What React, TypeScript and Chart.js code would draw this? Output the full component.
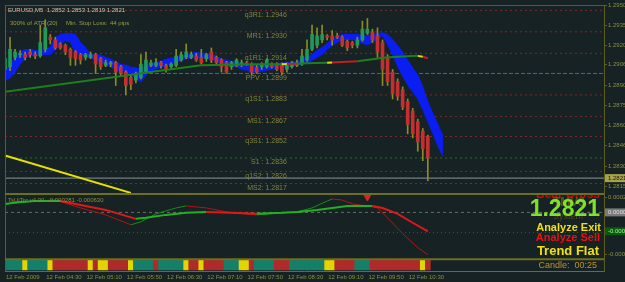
import React, { useEffect, useRef } from "react";
import { Chart, registerables } from "chart.js";

Chart.register(...registerables);

const FONT = "'Liberation Sans', Arial, sans-serif";
const BG = "#162224";
const FRAME = "#5c5c1c";
const SEP = "#6e6e22";
const AXIS_TEXT = "#8e8e40";

// ---------- categories (5-minute bars, incl. empty space on the right) ----------
const barTimes: string[] = [];
for (let i = 0; i < 120; i++) {
  const m = 3 * 60 + 50 + 5 * i;
  barTimes.push(`12 Feb ${String(Math.floor(m / 60)).padStart(2, "0")}:${String(m % 60).padStart(2, "0")}`);
}
const timeTickIdx = [0, 8, 16, 24, 32, 40, 48, 56, 64, 72, 80];
const timeTickLabels = ["12 Feb 2009", "12 Feb 04:30", "12 Feb 05:10", "12 Feb 05:50", "12 Feb 06:30", "12 Feb 07:10", "12 Feb 07:50", "12 Feb 08:30", "12 Feb 09:10", "12 Feb 09:50", "12 Feb 10:30"];

// ---------- price axis ----------
const mainTickValues = [1.295, 1.2935, 1.292, 1.29055, 1.289, 1.2875, 1.286, 1.28455, 1.283, 1.2815];
const mainTickLabels = ["1.2950", "1.2935", "1.2920", "1.2906", "1.2890", "1.2875", "1.2860", "1.2846", "1.2830", "1.2815"];
const indTickValues = [0.00022, -0.00063];
const indTickLabels = ["0.00022", "-0.00063"];

// ---------- candles ----------
const openP = [1.2902, 1.2904, 1.2911, 1.2913, 1.2913, 1.2915, 1.2913, 1.2912, 1.2917, 1.2926, 1.2924, 1.2921, 1.292, 1.2917, 1.2915, 1.2913, 1.2911, 1.2911, 1.2913, 1.291, 1.2905, 1.2906, 1.2907, 1.2904, 1.29, 1.2896, 1.2894, 1.2896, 1.29, 1.2905, 1.2905, 1.2907, 1.2905, 1.2904, 1.2905, 1.2909, 1.2911, 1.2911, 1.2912, 1.2911, 1.291, 1.2915, 1.2911, 1.2909, 1.2907, 1.2904, 1.2905, 1.2906, 1.2907, 1.2906, 1.2903, 1.2904, 1.2904, 1.2906, 1.2906, 1.2905, 1.2902, 1.2904, 1.2905, 1.2906, 1.2909, 1.2917, 1.292, 1.2924, 1.2927, 1.2927, 1.2927, 1.2926, 1.2923, 1.2922, 1.292, 1.2924, 1.2929, 1.293, 1.2927, 1.2922, 1.2911, 1.29, 1.2893, 1.2887, 1.2878, 1.2871, 1.2863, 1.2856, 1.2852];
const highP = [1.2917, 1.2926, 1.2917, 1.2916, 1.2915, 1.2917, 1.2915, 1.2935, 1.2939, 1.2928, 1.2926, 1.2922, 1.2921, 1.2918, 1.2916, 1.2914, 1.2914, 1.2915, 1.2914, 1.2911, 1.2909, 1.2908, 1.2908, 1.2905, 1.2901, 1.2898, 1.29, 1.2913, 1.2915, 1.2909, 1.291, 1.2908, 1.2906, 1.2907, 1.2917, 1.2915, 1.2921, 1.2915, 1.2914, 1.2917, 1.2914, 1.2918, 1.2912, 1.291, 1.2908, 1.2908, 1.291, 1.2909, 1.2908, 1.2907, 1.2905, 1.2907, 1.291, 1.2907, 1.2907, 1.2907, 1.2907, 1.2908, 1.2909, 1.2917, 1.2924, 1.2935, 1.2933, 1.2935, 1.2928, 1.2931, 1.2929, 1.2927, 1.2924, 1.2923, 1.2926, 1.2938, 1.294, 1.2932, 1.2933, 1.2924, 1.2913, 1.2902, 1.2895, 1.2889, 1.288, 1.2873, 1.2865, 1.2858, 1.2853];
const lowP = [1.2899, 1.2901, 1.2909, 1.2911, 1.2909, 1.2911, 1.291, 1.2911, 1.2915, 1.2921, 1.2917, 1.2917, 1.2913, 1.2905, 1.2905, 1.2906, 1.2909, 1.291, 1.2899, 1.2902, 1.2904, 1.2904, 1.289, 1.2897, 1.2883, 1.2887, 1.2892, 1.2895, 1.2899, 1.2904, 1.2904, 1.2903, 1.29, 1.2902, 1.2904, 1.2908, 1.291, 1.291, 1.2908, 1.2906, 1.2908, 1.2907, 1.2906, 1.29, 1.2899, 1.2902, 1.2904, 1.2904, 1.2905, 1.2898, 1.2899, 1.2902, 1.2903, 1.2903, 1.2901, 1.2898, 1.29, 1.2903, 1.2904, 1.2905, 1.2908, 1.2916, 1.2918, 1.2922, 1.2924, 1.292, 1.2925, 1.2919, 1.2916, 1.2918, 1.2918, 1.2923, 1.2928, 1.2922, 1.2911, 1.289, 1.289, 1.288, 1.2879, 1.2872, 1.2854, 1.2851, 1.2841, 1.2834, 1.2819];
const closeP = [1.291, 1.2917, 1.2915, 1.2914, 1.2911, 1.2913, 1.2912, 1.2922, 1.2933, 1.2924, 1.2918, 1.2918, 1.2915, 1.2911, 1.291, 1.2909, 1.2913, 1.2913, 1.2906, 1.2904, 1.2907, 1.2907, 1.29, 1.2899, 1.289, 1.2891, 1.2899, 1.2906, 1.2909, 1.2907, 1.2907, 1.2905, 1.2902, 1.2906, 1.2912, 1.2913, 1.2915, 1.2913, 1.2909, 1.2907, 1.2913, 1.2909, 1.2907, 1.2904, 1.29, 1.2907, 1.2909, 1.2907, 1.2906, 1.29, 1.29, 1.2906, 1.2909, 1.2904, 1.2902, 1.29, 1.2906, 1.2907, 1.2907, 1.2912, 1.2917, 1.2928, 1.2927, 1.2928, 1.2926, 1.2924, 1.2926, 1.292, 1.2918, 1.292, 1.2924, 1.2932, 1.2932, 1.2924, 1.2915, 1.2902, 1.2893, 1.2884, 1.2882, 1.2874, 1.2861, 1.2854, 1.2848, 1.2843, 1.2836];

// ---------- blue channel ----------
const bandUpper = [1.29022, 1.29059, 1.2911, 1.29154, 1.29169, 1.29169, 1.29162, 1.29162, 1.29169, 1.29184, 1.29257, 1.2928, 1.29287, 1.29287, 1.2928, 1.29221, 1.29184, 1.29132, 1.29132, 1.29125, 1.2911, 1.29096, 1.29074, 1.29059, 1.29051, 1.29037, 1.2903, 1.29022, 1.29044, 1.29059, 1.29074, 1.29081, 1.29096, 1.29103, 1.2911, 1.29118, 1.29125, 1.2914, 1.29147, 1.2914, 1.2914, 1.29132, 1.29118, 1.29096, 1.29088, 1.29081, 1.29074, 1.29066, 1.29059, 1.29051, 1.29051, 1.29051, 1.29051, 1.29059, 1.29066, 1.29066, 1.29074, 1.29074, 1.29081, 1.29096, 1.2911, 1.29132, 1.29162, 1.29184, 1.29213, 1.29243, 1.29265, 1.2928, 1.2928, 1.2928, 1.2928, 1.29272, 1.29272, 1.2928, 1.29287, 1.29294, 1.2928, 1.29243, 1.29199, 1.29147, 1.29088, 1.2903, 1.28978, 1.2889, 1.28779, 1.28691, 1.2861, 1.28522];
const bandLower = [1.28941, 1.28956, 1.29, 1.29059, 1.29103, 1.29125, 1.29125, 1.29125, 1.29132, 1.29132, 1.29169, 1.29206, 1.29235, 1.29221, 1.29147, 1.29132, 1.29118, 1.29103, 1.29096, 1.29074, 1.29059, 1.29037, 1.29022, 1.29007, 1.28993, 1.28978, 1.28956, 1.28926, 1.28978, 1.29007, 1.29022, 1.29037, 1.29051, 1.29059, 1.29074, 1.29088, 1.29096, 1.29103, 1.2911, 1.2911, 1.29103, 1.29096, 1.29081, 1.29051, 1.29051, 1.29044, 1.29037, 1.29022, 1.29015, 1.29, 1.29, 1.29007, 1.29015, 1.29022, 1.2903, 1.29037, 1.29037, 1.29044, 1.29051, 1.29059, 1.29066, 1.29088, 1.2911, 1.29132, 1.29169, 1.29199, 1.29221, 1.29243, 1.29243, 1.29243, 1.29235, 1.29213, 1.29206, 1.29221, 1.2925, 1.29272, 1.29206, 1.29132, 1.29044, 1.28971, 1.28904, 1.28853, 1.28801, 1.28721, 1.28632, 1.28544, 1.28449, 1.28375];

// ---------- moving average ----------
const maIdx = [0, 10, 20, 30, 39, 50, 55, 56, 58, 60, 64, 65, 70, 73, 75, 78, 80, 82, 83, 84];
const maVal = [1.28853, 1.28904, 1.28954, 1.29006, 1.29051, 1.29059, 1.29059, 1.2906, 1.29063, 1.29066, 1.2907, 1.29071, 1.29081, 1.29096, 1.29107, 1.29114, 1.29118, 1.29121, 1.29114, 1.29103];
const maSeg = "GGGGGGYRGGYRGGGGGYRR".split("");

// ---------- trend line ----------
const trendIdx = [0, 25];
const trendVal = [1.28378, 1.281];

// ---------- pivot levels ----------
const pivotNames = ["q3R1", "MR1", "q1R1", "PPV ", "q1S1", "MS1", "q3S1", "S1 ", "q1S2", "MS2"];
const pivotLevels = [1.2946, 1.293, 1.2914, 1.2899, 1.2883, 1.2867, 1.2852, 1.2836, 1.2826, 1.2817];
const bidPrice = 1.2821;

// ---------- indicator window ----------
const fastIdx = [0, 3, 6, 11, 15, 20, 26, 28, 32, 36, 40, 45, 50, 55, 58, 62, 65, 68, 73, 75, 78, 81, 84];
const fastVal = [0.000125, 0.000154, 0.000169, 0.000169, 0.00011, 0.000037, -0.000096, -0.000081, -0.000037, -0.000007, 0.000007, -0.000007, -0.000022, -0.000007, 0.000007, 0.000037, 0.000066, 0.000096, 0.000096, 0.000066, -0.000022, -0.000154, -0.000281];
const slowIdx = [0, 6, 10, 15, 20, 24, 25, 27, 30, 34, 36, 40, 45, 50, 55, 58, 61, 64, 65, 67, 69, 72, 74, 76, 79, 82, 84];
const slowVal = [0.000125, 0.000169, 0.000184, 0.000066, -0.000037, -0.000154, -0.000184, -0.00014, -0.000022, 0.000066, 0.000096, 0.000066, -0.000007, -0.000037, -0.000007, 0.000007, 0.000066, 0.000169, 0.000199, 0.000184, 0.000125, 0.000096, 0.000066, -0.000081, -0.000316, -0.000522, -0.00063];
const indLevels = [0, -0.0003];
const arrowIdx = [72];
const arrowVal = [0.000228];

// ---------- trend state strip ----------
const trendStates = "GGGGYGGGGYRRRRRRRYRYYRRRRYGGGGRGGGGGYRRYRRRRGGGYYRGGGGRRRGGGGGGGYYRRRRGGGRRRRRRRRRRYR".split("");

// ---------- texts ----------
const symbolTitle = "EURUSD,M5  1.2852 1.2853 1.2819 1.2821";
const atrParts = ["300% of ATR (20)", "Min. Stop Loss:", "44 pips"];
const indLabel = "TsUiTrc v4.00  -0.000281 -0.000630";
const signalTexts = ["Bear Cross", "TMV3", "System", "Analyze Exit", "Analyze Sell", "Trend Flat"];
const candleTimer = "Candle:  00:25";

const STATE_COLORS: Record<string, string> = { G: "#15806a", R: "#b02a2a", Y: "#e4d400" };
const MA_COLORS: Record<string, string> = { G: "#1e7e1e", Y: "#e0e000", R: "#c02020" };

const bgPlugin = {
  id: "bg",
  beforeDraw(chart: any) {
    const { ctx, width, height } = chart;
    ctx.save();
    ctx.fillStyle = BG;
    ctx.fillRect(0, 0, width, height);
    ctx.restore();
  },
};

const overlayPlugin = {
  id: "mt4Overlay",
  afterDraw(chart: any) {
    const { ctx, chartArea: ca, scales } = chart;
    const xs = scales.x, ym = scales.y, yi = scales.yi, yb = scales.yb;
    const hline = (y: number, x0: number, x1: number) => {
      ctx.beginPath(); ctx.moveTo(x0, y); ctx.lineTo(x1, y); ctx.stroke();
    };
    ctx.save();
    ctx.strokeStyle = FRAME; ctx.lineWidth = 1;
    hline(ca.top + 0.5, ca.left, ca.right);
    ctx.beginPath(); ctx.moveTo(ca.left + 0.5, ca.top); ctx.lineTo(ca.left + 0.5, ca.bottom); ctx.stroke();
    ctx.strokeStyle = SEP;
    hline(ca.bottom + 0.5, ca.left, ca.right);
    ctx.lineWidth = 2;
    hline(yi.top + 1, ca.left, ca.right);
    hline(yb.top + 1, ca.left, ca.right);

    // time axis labels
    ctx.font = `6px ${FONT}`; ctx.fillStyle = AXIS_TEXT; ctx.textAlign = "left"; ctx.textBaseline = "middle";
    timeTickIdx.forEach((b, k) => ctx.fillText(timeTickLabels[k], xs.getPixelForValue(b) + 1, ca.bottom + 6));

    // pivot labels
    ctx.font = `7px ${FONT}`; ctx.fillStyle = "#85853a"; ctx.textAlign = "right"; ctx.textBaseline = "top";
    const lx = xs.getPixelForValue(56);
    pivotLevels.forEach((lvl, k) => ctx.fillText(`${pivotNames[k]}: ${lvl.toFixed(4)}`, lx, ym.getPixelForValue(lvl) + 1));

    // header texts
    ctx.textAlign = "left"; ctx.textBaseline = "middle";
    ctx.font = `6px ${FONT}`; ctx.fillStyle = "#c6c6b4";
    ctx.fillText(symbolTitle, ca.left + 3, ca.top + 5);
    ctx.fillStyle = "#9c9c40";
    ctx.fillText(atrParts[0], ca.left + 5, ca.top + 18);
    ctx.fillText(atrParts[1], ca.left + 61, ca.top + 18);
    ctx.fillText(atrParts[2], ca.left + 105, ca.top + 18);
    ctx.font = `6px ${FONT}`; ctx.fillStyle = "#8c8c3a";
    ctx.fillText(indLabel, ca.left + 3, yi.top + 7);

    // right-hand signal block
    const rx = ca.right - 4;
    ctx.save();
    ctx.beginPath(); ctx.rect(ca.left, yi.top + 2, ca.right - ca.left, yi.bottom - yi.top); ctx.clip();
    ctx.textAlign = "right";
    ctx.font = `bold 12px ${FONT}`; ctx.fillStyle = "#e00000";
    ctx.fillText(signalTexts[0], rx, yi.top + 2);
    ctx.restore();
    ctx.textAlign = "center";
    ctx.font = `bold 12px ${FONT}`; ctx.fillStyle = "#55551c";
    ctx.fillText(signalTexts[1], rx - 31, yi.top + 10);
    ctx.font = `9px ${FONT}`; ctx.fillStyle = "#4c4c1c";
    ctx.fillText(signalTexts[2], rx - 32, yi.top + 24);
    ctx.textAlign = "right";
    ctx.font = `bold 23px ${FONT}`; ctx.fillStyle = "#7ee22a";
    ctx.fillText(bidPrice.toFixed(4), rx, yi.top + 17);
    ctx.font = `bold 11px ${FONT}`; ctx.fillStyle = "#f0e010";
    ctx.fillText(signalTexts[3], rx + 1, yi.top + 35);
    ctx.fillStyle = "#e81010";
    ctx.fillText(signalTexts[4], rx, yi.top + 45);
    ctx.font = `bold 13px ${FONT}`; ctx.fillStyle = "#f0e010";
    ctx.fillText(signalTexts[5], rx - 1, yi.top + 59);
    ctx.font = `9px ${FONT}`; ctx.fillStyle = "#c0922e";
    ctx.fillText(candleTimer, rx - 3, (yb.top + yb.bottom) / 2 + 1);

    // axis value boxes
    const box = (y: number, text: string, bg: string, fg: string) => {
      ctx.fillStyle = bg; ctx.fillRect(ca.right + 1, y - 4, chart.width - ca.right - 1, 8);
      ctx.fillStyle = fg; ctx.font = `6px ${FONT}`; ctx.textAlign = "left"; ctx.textBaseline = "middle";
      ctx.fillText(text, ca.right + 4, y);
    };
    box(ym.getPixelForValue(bidPrice), bidPrice.toFixed(4), "#a8a24a", "#1c1c10");
    box(yi.getPixelForValue(0), "0.00000", "#7a7a7a", "#e0e0e0");
    const lastFast = fastVal[fastVal.length - 1];
    box(yi.getPixelForValue(lastFast), lastFast.toFixed(5), "#0c5a0c", "#a0f0a0");
    ctx.restore();
  },
};

function buildConfig(): any {
  const datasets: any[] = [];
  const last = barTimes[barTimes.length - 1];
  pivotLevels.forEach((lvl, k) => {
    const name = pivotNames[k].trim();
    const color = name === "PPV" ? "#2a6ad0" : name === "S1" ? "#2c6a2c" : "#7e2a2a";
    datasets.push({
      type: "line", label: name, yAxisID: "y", order: 60,
      data: [{ x: barTimes[0], y: lvl }, { x: last, y: lvl }],
      borderColor: color, borderWidth: 1, borderDash: name === "PPV" ? [4, 2] : [2, 3],
      pointRadius: 0, fill: false,
    });
  });
  datasets.push({
    type: "line", label: "bid", yAxisID: "y", order: 59,
    data: [{ x: barTimes[0], y: bidPrice }, { x: last, y: bidPrice }],
    borderColor: "#8a9696", borderWidth: 1, pointRadius: 0, fill: false,
  });
  const upperIndex = datasets.length;
  datasets.push({
    type: "line", label: "chanUp", yAxisID: "y", order: 50, data: bandUpper,
    borderColor: "#0b1ef2", borderWidth: 1, pointRadius: 0, fill: false, tension: 0,
  });
  datasets.push({
    type: "line", label: "chanDn", yAxisID: "y", order: 50, data: bandLower,
    borderColor: "#0b1ef2", backgroundColor: "#0b1ef2", borderWidth: 1, pointRadius: 0,
    fill: { target: upperIndex }, tension: 0,
  });
  datasets.push({
    type: "bar", label: "wick", yAxisID: "y", order: 40, grouped: false,
    data: lowP.map((l, i) => [l, highP[i]]), backgroundColor: "#8c8c22", barThickness: 1,
  });
  datasets.push({
    type: "bar", label: "body", yAxisID: "y", order: 39, grouped: false, minBarLength: 1,
    data: openP.map((o, i) => [o, closeP[i]]),
    backgroundColor: openP.map((o, i) => (closeP[i] >= o ? "#1f9b57" : "#c43030")), barThickness: 3,
  });
  datasets.push({
    type: "line", label: "ma", yAxisID: "y", order: 30,
    data: maIdx.map((b, k) => ({ x: barTimes[b], y: maVal[k] })),
    borderColor: MA_COLORS.G, borderWidth: 2, pointRadius: 0, fill: false,
    segment: { borderColor: (c: any) => MA_COLORS[maSeg[c.p0DataIndex]] },
  });
  datasets.push({
    type: "line", label: "trend", yAxisID: "y", order: 20,
    data: trendIdx.map((b, k) => ({ x: barTimes[b], y: trendVal[k] })),
    borderColor: "#e6e000", borderWidth: 2, pointRadius: 0, fill: false,
  });
  indLevels.forEach((lvl, k) => {
    datasets.push({
      type: "line", label: `lvl${k}`, yAxisID: "yi", order: 25,
      data: [{ x: barTimes[0], y: lvl }, { x: last, y: lvl }],
      borderColor: k === 0 ? "#6c6c6c" : "#1a6a1a", borderWidth: 1, borderDash: k === 0 ? [3, 3] : [1, 3],
      pointRadius: 0, fill: false,
    });
  });
  datasets.push({
    type: "line", label: "slow", yAxisID: "yi", order: 12,
    data: slowIdx.map((b, k) => ({ x: barTimes[b], y: slowVal[k] })),
    borderColor: "#b01515", borderWidth: 1, pointRadius: 0, fill: false,
    segment: { borderColor: (c: any) => (c.p1.parsed.y >= c.p0.parsed.y ? "#139013" : "#b01515") },
  });
  datasets.push({
    type: "line", label: "fast", yAxisID: "yi", order: 11,
    data: fastIdx.map((b, k) => ({ x: barTimes[b], y: fastVal[k] })),
    borderColor: "#e01818", borderWidth: 2, pointRadius: 0, fill: false,
    segment: { borderColor: (c: any) => (c.p1.parsed.y >= c.p0.parsed.y ? "#22b022" : "#e01818") },
  });
  datasets.push({
    type: "line", label: "arrow", yAxisID: "yi", order: 5, showLine: false,
    data: arrowIdx.map((b, k) => ({ x: barTimes[b], y: arrowVal[k] })),
    pointStyle: "triangle", rotation: 180, pointRadius: 4,
    pointBackgroundColor: "#e02020", pointBorderColor: "#e02020",
  });
  datasets.push({
    type: "bar", label: "state", yAxisID: "yb", order: 45, grouped: false,
    data: trendStates.map(() => 1), backgroundColor: trendStates.map((s) => STATE_COLORS[s]),
    barPercentage: 1, categoryPercentage: 1,
  });

  const yCommon = (weight: number) => ({
    type: "linear", position: "right", stack: "panes", stackWeight: weight, bounds: "data",
    grid: { display: true, drawOnChartArea: false, color: FRAME, tickLength: 3 },
    border: { color: FRAME, width: 1 },
    afterFit: (s: any) => { s.width = 21; s.paddingTop = 0; s.paddingBottom = 0; },
  });

  return {
    type: "bar",
    data: { labels: barTimes, datasets },
    options: {
      responsive: false, animation: false, events: [],
      layout: { padding: { left: 2, top: 2, right: 0, bottom: 0 } },
      plugins: { legend: { display: false }, tooltip: { enabled: false } },
      scales: {
        x: {
          type: "category", offset: false,
          grid: { display: false }, border: { display: false },
          ticks: { display: false },
          afterFit: (s: any) => { s.height = 11; s.paddingLeft = 0; s.paddingRight = 0; },
        },
        y: {
          ...yCommon(190), min: 1.281, max: 1.295,
          afterBuildTicks: (s: any) => { s.ticks = mainTickValues.map((v) => ({ value: v })); },
          ticks: { color: AXIS_TEXT, font: { size: 6, family: FONT }, padding: 1, callback: (_v: any, i: number) => mainTickLabels[i] },
        },
        yi: {
          ...yCommon(66), min: -0.00068, max: 0.00029,
          afterBuildTicks: (s: any) => { s.ticks = indTickValues.map((v) => ({ value: v })); },
          ticks: { color: AXIS_TEXT, font: { size: 6, family: FONT }, padding: 1, callback: (_v: any, i: number) => indTickLabels[i] },
        },
        yb: {
          ...yCommon(13), min: -0.1, max: 1.2,
          grid: { display: false },
          ticks: { display: false },
        },
      },
    },
    plugins: [bgPlugin, overlayPlugin],
  };
}

export default function App() {
  const ref = useRef<HTMLCanvasElement>(null);
  useEffect(() => {
    document.body.style.margin = "0";
    document.body.style.background = BG;
    const chart = new Chart(ref.current as HTMLCanvasElement, buildConfig());
    return () => chart.destroy();
  }, []);
  return <canvas ref={ref} width={625} height={282} style={{ display: "block", width: 625, height: 282 }} />;
}
